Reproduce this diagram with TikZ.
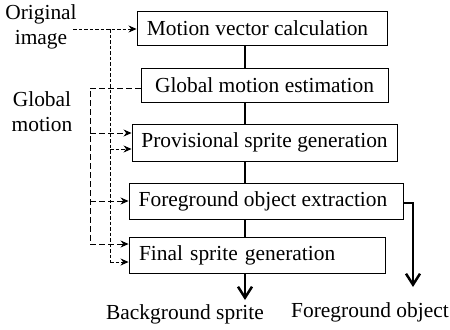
\documentclass[tikz,border=0pt]{standalone}
\usepackage{fontspec}
\setmainfont{Liberation Serif}
\usetikzlibrary{arrows.meta}
\begin{document}
\begin{tikzpicture}[x=1bp,y=-1bp,
  box/.style={draw,line width=0.9bp,inner sep=0pt,font=\fontsize{21.5}{24}\selectfont},
  lbl/.style={align=center,inner sep=0pt,font=\fontsize{21.5}{25}\selectfont},
  flow/.style={line width=2.5bp},
  bigtip/.style={-{Straight Barb[length=11bp,width=14bp,line width=2.5bp]}},
  odash/.style={line width=0.8bp,dash pattern=on 3.5bp off 2bp},
  gdash/.style={line width=0.8bp,dash pattern=on 6bp off 3bp},
  tip/.style={-{Stealth[length=8bp,width=7bp]}}
]
\useasboundingbox (0,0) rectangle (450,329);
% boxes
\node[box,minimum width=250bp,minimum height=34bp] (b1) at (262,28) {Motion vector calculation\hspace*{9bp}};
\node[box,minimum width=247bp,minimum height=34bp] (b2) at (264.5,85) {Global motion estimation};
\node[box,minimum width=265bp,minimum height=37bp] (b3) at (264.5,142.5) {Provisional sprite generation};
\node[box,minimum width=274bp,minimum height=36bp] (b4) at (266,201) {Foreground object extraction\hspace*{6bp}};
\node[box,minimum height=36bp,inner xsep=10bp,text width=236bp,align=left] (b5) at (257,255) {Final sprite generation};
% labels
\node[lbl] (orig) at (41,27) {Original\\image};
\node[lbl] (glob) at (42,112) {Global\\motion};
\node[lbl] (bg) at (185,314) {Background sprite};
\node[lbl] (fg) at (370,312) {Foreground object};
% main flow
\coordinate (ax) at (245,0);
\draw[flow] (b1.south -| ax) -- (b2.north -| ax);
\draw[flow] (b2.south -| ax) -- (b3.north -| ax);
\draw[flow] (b3.south -| ax) -- (b4.north -| ax);
\draw[flow] (b4.south -| ax) -- (b5.north -| ax);
\coordinate (bgt) at (245,300);
\draw[flow,bigtip] (b5.south -| ax) -- (bgt);
\coordinate (fgt) at (413,287);
\draw[flow,bigtip] ([yshift=-2bp]b4.east) -| (fgt);
% original image (short dashes)
\coordinate (o0) at (73,29);
\coordinate (ov) at (110,29);
\coordinate (ob3) at (110,149);
\coordinate (ob5) at (110,262);
\draw[odash,tip] (o0) -- (b1.west |- o0);
\draw[odash] (ov) -- (ob5);
\draw[odash,tip] (ob3) -- (b3.west |- ob3);
\draw[odash,tip] (ob5) -- (b5.west |- ob5);
% global motion (long dashes)
\coordinate (g0) at (141,88);
\coordinate (gv) at (90,88);
\coordinate (gb3) at (90,133);
\coordinate (gb4) at (90,201);
\coordinate (gb5) at (90,244);
\draw[gdash] (b2.west |- g0) -- (gv) -- (gb5);
\draw[gdash,tip] (gb3) -- (b3.west |- gb3);
\draw[gdash,tip] (gb4) -- (b4.west |- gb4);
\draw[gdash,tip] (gb5) -- (b5.west |- gb5);
\end{tikzpicture}
\end{document}
